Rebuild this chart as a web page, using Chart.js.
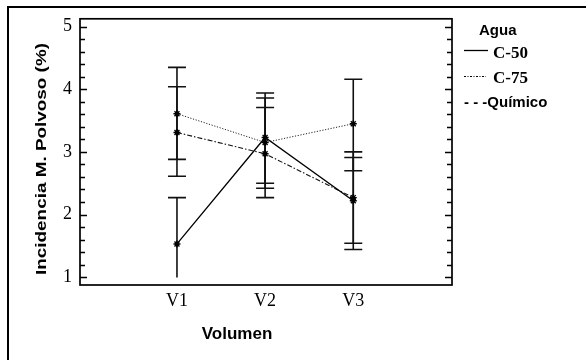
<!DOCTYPE html>
<html>
<head>
<meta charset="utf-8">
<script src="https://cdn.jsdelivr.net/npm/chart.js@4/dist/chart.umd.min.js"></script>
<style>
  html, body { margin: 0; padding: 0; background: #fff; }
  #wrap { width: 586px; height: 360px; }
</style>
</head>
<body>
<div id="wrap"><canvas id="chart" width="586" height="360"></canvas></div>
<script>
// categorías y posiciones en el eje x
var categories = ['V1', 'V2', 'V3'];
var xPos = [1, 2, 3];
var yTicks = [1, 2, 3, 4, 5];

var seriesNames = ['C-50', 'C-75', 'Químico'];
var legendTitle = 'Agua';

// medias
var c50 = [1.53, 3.23, 2.22];
var c75 = [3.61, 3.15, 3.45];
var quimico = [3.31, 2.97, 2.27];

// barras de error (límite inferior / superior)
var c50Low = [0.82, 2.50, 1.44];
var c50High = [2.27, 3.94, 2.91];
var c75Low = [2.88, 2.42, 2.70];
var c75High = [4.35, 3.86, 4.16];
var quimicoLow = [2.61, 2.27, 1.54];
var quimicoHigh = [4.04, 3.71, 3.00];

var clipMin = 1;

function pts(arr) {
  return arr.map(function(v, i) { return { x: xPos[i], y: v }; });
}

var errBars = [
  { low: c50Low, high: c50High },
  { low: c75Low, high: c75High },
  { low: quimicoLow, high: quimicoHigh }
];

var decoPlugin = {
  id: 'deco',
  beforeDatasetsDraw: function(chart) {
    var ctx = chart.ctx;
    var xs = chart.scales.x, ys = chart.scales.y;
    var clipY = ys.getPixelForValue(clipMin);
    ctx.save();
    ctx.beginPath();
    ctx.rect(0, 0, chart.width, clipY + 0.5);
    ctx.clip();
    ctx.strokeStyle = '#111';
    ctx.lineWidth = 1.6;
    errBars.forEach(function(eb) {
      xPos.forEach(function(xv, i) {
        var px = xs.getPixelForValue(xv);
        var lo = ys.getPixelForValue(eb.low[i]);
        var hi = ys.getPixelForValue(eb.high[i]);
        ctx.beginPath();
        ctx.moveTo(px, lo); ctx.lineTo(px, hi);
        ctx.moveTo(px - 9, lo); ctx.lineTo(px + 9, lo);
        ctx.moveTo(px - 9, hi); ctx.lineTo(px + 9, hi);
        ctx.stroke();
      });
    });
    ctx.restore();
  },
  afterDraw: function(chart) {
    var ctx = chart.ctx;
    var a = chart.chartArea;
    var ys = chart.scales.y;
    ctx.save();
    // marco exterior
    ctx.strokeStyle = '#000';
    ctx.lineWidth = 2;
    ctx.strokeRect(8, 7, 700, 500);
    // marco del gráfico
    ctx.lineWidth = 1.7;
    ctx.strokeRect(a.left, a.top, a.right - a.left, a.bottom - a.top);
    // marcas del eje y (hacia dentro)
    ctx.lineWidth = 1.5;
    for (var v = yTicks[0] - 1; v <= yTicks[yTicks.length - 1] + 1; v += 0.2) {
      var vv = Math.round(v * 10) / 10;
      if (vv < ys.min || vv > ys.max) continue;
      var py = Math.round(ys.getPixelForValue(vv)) + 0.5;
      var major = Math.abs(vv - Math.round(vv)) < 1e-6;
      var len = major ? 7 : 5;
      ctx.beginPath();
      ctx.moveTo(a.left, py); ctx.lineTo(a.left + len, py);
      ctx.moveTo(a.right, py); ctx.lineTo(a.right - len, py);
      ctx.stroke();
    }
    // títulos de ejes
    ctx.fillStyle = '#000';
    ctx.font = 'bold 14.5px "Liberation Sans", Arial, sans-serif';
    var yTitle = 'Incidencia M. Polvoso (%)';
    var w = ctx.measureText(yTitle).width;
    ctx.save();
    ctx.translate(45.5, 159);
    ctx.rotate(-Math.PI / 2);
    ctx.scale(232 / w, 1);
    ctx.textAlign = 'center';
    ctx.textBaseline = 'alphabetic';
    ctx.fillText(yTitle, 0, 0);
    ctx.restore();

    ctx.font = 'bold 17px "Liberation Sans", Arial, sans-serif';
    ctx.textAlign = 'center';
    ctx.textBaseline = 'alphabetic';
    ctx.fillText('Volumen', 237, 339);

    // leyenda
    ctx.textAlign = 'left';
    ctx.font = 'bold 15px "Liberation Sans", Arial, sans-serif';
    ctx.fillText(legendTitle, 479, 35);

    ctx.strokeStyle = '#000';
    ctx.lineWidth = 1.3;
    ctx.beginPath(); ctx.moveTo(464, 50.5); ctx.lineTo(488, 50.5); ctx.stroke();
    ctx.lineWidth = 1;
    ctx.setLineDash([2, 1.5, 1, 1.5]);
    ctx.beginPath(); ctx.moveTo(464, 76.5); ctx.lineTo(486, 76.5); ctx.stroke();
    ctx.setLineDash([]);

    ctx.font = 'bold 17px "Liberation Serif", "Times New Roman", serif';
    ctx.fillText(seriesNames[0], 493, 58);
    ctx.fillText(seriesNames[1], 493, 83);
    ctx.font = 'bold 15px "Liberation Sans", Arial, sans-serif';
    ctx.fillText('- - -' + seriesNames[2], 464, 107);
    ctx.restore();
  }
};

var pointOpts = {
  pointStyle: 'star',
  pointRadius: 3.5,
  pointBorderWidth: 1.4,
  pointBorderColor: '#000',
  pointBackgroundColor: '#000'
};

new Chart(document.getElementById('chart'), {
  type: 'scatter',
  data: {
    datasets: [
      Object.assign({
        label: seriesNames[0], data: pts(c50), showLine: true,
        borderColor: '#000', borderWidth: 1.3
      }, pointOpts),
      Object.assign({
        label: seriesNames[1], data: pts(c75), showLine: true,
        borderColor: '#222', borderWidth: 1, borderDash: [1.2, 1.6]
      }, pointOpts),
      Object.assign({
        label: seriesNames[2], data: pts(quimico), showLine: true,
        borderColor: '#111', borderWidth: 1.1, borderDash: [5, 2, 1.5, 2]
      }, pointOpts)
    ]
  },
  options: {
    responsive: false,
    animation: false,
    layout: { padding: { left: 0, top: 16, right: 134, bottom: 0 } },
    plugins: { legend: { display: false }, tooltip: { enabled: false } },
    scales: {
      x: {
        type: 'linear',
        min: -0.1,
        max: 4.12,
        grid: { display: false, drawTicks: false },
        border: { display: false },
        afterBuildTicks: function(s) {
          s.ticks = xPos.map(function(v) { return { value: v }; });
        },
        afterFit: function(s) { s.height = 75; },
        ticks: {
          padding: 5,
          color: '#000',
          maxRotation: 0,
          font: { family: '"Liberation Serif", "Times New Roman", serif', size: 18 },
          callback: function(v) { return categories[xPos.indexOf(v)]; }
        }
      },
      y: {
        min: 0.874,
        max: 5.126,
        grid: { display: false, drawTicks: false },
        border: { display: false },
        afterBuildTicks: function(s) {
          s.ticks = yTicks.map(function(v) { return { value: v }; });
        },
        afterFit: function(s) { s.width = 80; },
        ticks: {
          padding: 8,
          color: '#000',
          font: { family: '"Liberation Serif", "Times New Roman", serif', size: 18 }
        }
      }
    }
  },
  plugins: [decoPlugin]
});
</script>
</body>
</html>
